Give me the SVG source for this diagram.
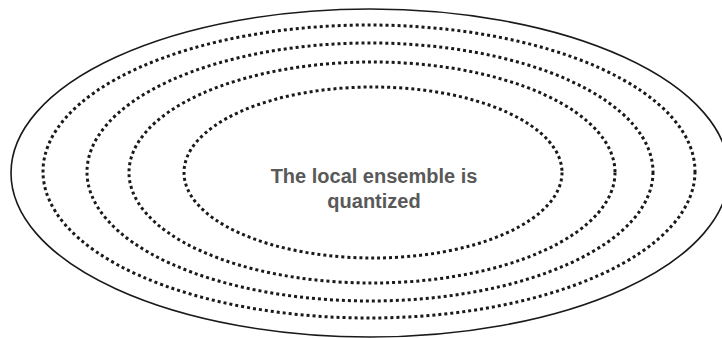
<svg xmlns="http://www.w3.org/2000/svg" width="722" height="338" viewBox="0 0 722 338">
  <style>
    .ring { fill: none; stroke: #1a1a1a; }
    .solid { stroke-width: 1.6; }
    .dotted { stroke-width: 3; stroke-dasharray: 3 3; }
    .label { font-family: "Liberation Sans", Arial, sans-serif; font-weight: bold; font-size: 20px; fill: #595959; text-anchor: middle; }
  </style>
  <rect width="722" height="338" fill="#ffffff"/>
  <!-- outer boundary, runs slightly past the right edge -->
  <g id="outer">
    <ellipse class="ring solid" cx="370" cy="173" rx="359" ry="164"/>
  </g>
  <!-- nested dotted rings, outermost first -->
  <g id="ring1">
    <ellipse class="ring dotted" cx="369" cy="171.5" rx="326" ry="146.5"/>
  </g>
  <g id="ring2">
    <ellipse class="ring dotted" cx="370" cy="172" rx="283" ry="129"/>
  </g>
  <g id="ring3">
    <ellipse class="ring dotted" cx="372" cy="172.5" rx="243" ry="110.5"/>
  </g>
  <g id="core">
    <ellipse class="ring dotted" cx="373" cy="172.5" rx="189" ry="85.5"/>
    <text class="label" x="374" y="183">The local ensemble is</text>
    <text class="label" x="374" y="208">quantized</text>
  </g>
  <g id="connectors"/>
</svg>
